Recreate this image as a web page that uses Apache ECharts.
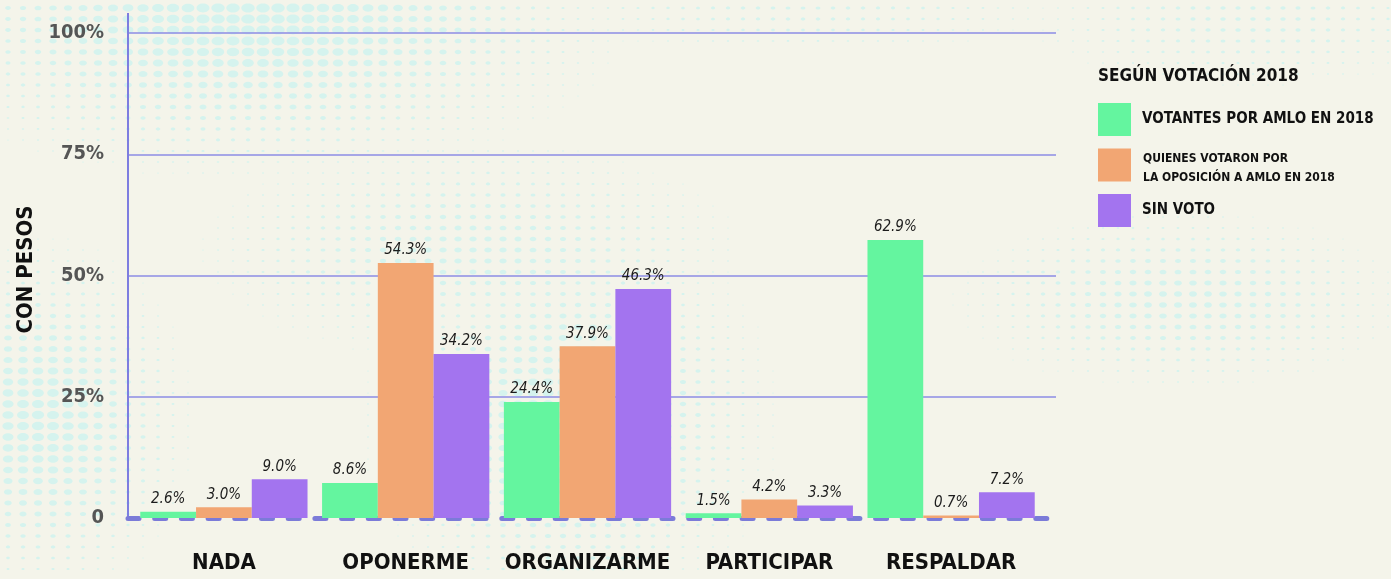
<!DOCTYPE html>
<html lang="es">
<head>
  <meta charset="UTF-8">
  <title>Con pesos</title>
  <style>
    html, body {
      margin: 0;
      padding: 0;
      width: 100%;
      height: 100%;
      background: #f4f4ea;
    }
  </style>
  <script src="https://cdn.jsdelivr.net/npm/echarts@6/dist/echarts.min.js"></script>
</head>
<body>
<div id="main" style="width: 1391px; height: 579px;"></div>

<script>
  var categorias = ['NADA', 'OPONERME', 'ORGANIZARME', 'PARTICIPAR', 'RESPALDAR'];
  var grupos = ['VOTANTES POR AMLO EN 2018', 'QUIENES VOTARON POR\nLA OPOSICIÓN A AMLO EN 2018', 'SIN VOTO'];

  // alturas de las barras tal como se ven en la imagen
  var votantesAmlo = [1.3, 7.2, 23.9, 1.0, 57.3];
  var oposicion = [2.2, 52.6, 35.4, 3.8, 0.5];
  var sinVoto = [8.0, 33.8, 47.2, 2.6, 5.3];

  // etiquetas impresas sobre cada barra
  var etiquetasAmlo = ['2.6', '8.6', '24.4', '1.5', '62.9'];
  var etiquetasOposicion = ['3.0', '54.3', '37.9', '4.2', '0.7'];
  var etiquetasSinVoto = ['9.0', '34.2', '46.3', '3.3', '7.2'];

  var colores = ['#64f59f', '#f2a673', '#a374ef'];

  var narrow = "'DejaVu Sans Condensed', 'DejaVu Sans', sans-serif";

  var chartDom = document.getElementById('main');
  var myChart = echarts.init(chartDom);

  // fondo de puntos (semitono decorativo)
  var manchas = [
    // cx, cy, rx, ry, fuerza
    [250, 20, 260, 110, 1.0],
    [40, 420, 110, 130, 0.9],
    [570, 420, 150, 150, 0.85],
    [470, 250, 220, 90, 0.55],
    [1180, 300, 180, 70, 0.6],
    [1250, 20, 200, 60, 0.4],
    [800, 10, 250, 40, 0.35]
  ];

  function puntosFondo() {
    var hijos = [];
    for (var y = 8; y < 579; y += 11) {
      for (var x = 8; x < 1391; x += 15) {
        var f = 0;
        manchas.forEach(function (m) {
          var dx = (x - m[0]) / m[2];
          var dy = (y - m[1]) / m[3];
          f = Math.max(f, m[4] * Math.exp(-(dx * dx + dy * dy)));
        });
        if (f < 0.12) continue;
        hijos.push({
          type: 'ellipse',
          shape: { cx: x, cy: y, rx: 6.8 * f, ry: 4.6 * f },
          style: { fill: '#d5f3ee' },
          silent: true
        });
      }
    }
    return hijos;
  }

  function serie(i, datos, etiquetas) {
    return {
      name: grupos[i],
      type: 'bar',
      xAxisIndex: 1,
      yAxisIndex: 1,
      data: datos,
      barGap: 0,
      barCategoryGap: '8%',
      itemStyle: { color: colores[i] },
      label: {
        show: true,
        position: 'top',
        distance: 5,
        fontFamily: narrow,
        fontStyle: 'italic',
        fontSize: 15,
        color: '#1c1c1c',
        formatter: function (p) {
          return etiquetas[p.dataIndex] + '%';
        }
      }
    };
  }

  var option = {
    backgroundColor: '#f4f4ea',
    animation: false,
    graphic: [
      {
        type: 'group',
        z: -10,
        silent: true,
        children: puntosFondo()
      }
    ],
    title: {
      text: 'SEGÚN VOTACIÓN 2018',
      left: 1098,
      top: 68,
      padding: 0,
      textStyle: {
        fontFamily: narrow,
        fontWeight: 'bold',
        fontSize: 17,
        color: '#111'
      }
    },
    legend: {
      orient: 'vertical',
      left: 1098,
      top: 103,
      padding: 0,
      icon: 'rect',
      itemWidth: 33,
      itemHeight: 33,
      itemGap: 10,
      data: grupos,
      formatter: function (name) {
        if (name === grupos[1]) {
          return '{s|' + name + '}';
        }
        return '{b|' + name + '}';
      },
      textStyle: {
        rich: {
          b: {
            fontFamily: narrow,
            fontWeight: 'bold',
            fontSize: 15,
            color: '#111',
            padding: [0, 0, 0, 6]
          },
          s: {
            fontFamily: narrow,
            fontWeight: 'bold',
            fontSize: 12,
            lineHeight: 19,
            color: '#111',
            padding: [7, 0, 0, 7]
          }
        }
      }
    },
    grid: [
      { left: 128, right: 335, top: 33, bottom: 61, outerBoundsMode: 'none' },
      { left: 133, right: 349, top: 33, bottom: 61, outerBoundsMode: 'none' }
    ],
    xAxis: [
      {
        type: 'value',
        gridIndex: 0,
        min: 0,
        max: 1,
        axisLine: {
          show: true,
          lineStyle: {
            color: '#7b7bd8',
            width: 5,
            type: [11, 15.7],
            cap: 'round'
          }
        },
        axisTick: { show: false },
        axisLabel: { show: false },
        splitLine: { show: false }
      },
      {
        type: 'category',
        gridIndex: 1,
        data: categorias,
        axisLine: { show: false },
        axisTick: { show: false },
        axisLabel: {
          interval: 0,
          margin: 34,
          verticalAlign: 'top',
          lineHeight: 22,
          fontFamily: narrow,
          fontWeight: 'bold',
          fontSize: 22,
          color: '#111'
        }
      }
    ],
    yAxis: [
      {
        type: 'value',
        gridIndex: 0,
        min: 0,
        max: 100,
        interval: 25,
        name: 'CON PESOS',
        nameLocation: 'middle',
        nameRotate: 90,
        nameGap: 84,
        nameTextStyle: {
          fontFamily: narrow,
          fontWeight: 'bold',
          fontSize: 22,
          color: '#111',
          padding: [0, 0, 0, 12]
        },
        axisLine: {
          show: true,
          symbol: ['none', 'rect'],
          symbolSize: [2, 40],
          lineStyle: { color: '#7d7de0', width: 2 }
        },
        axisTick: { show: false },
        axisLabel: {
          margin: 24,
          padding: [0, 0, 8, 0],
          fontFamily: narrow,
          fontWeight: 'bold',
          fontSize: 20,
          color: '#555',
          formatter: function (v) {
            return v === 0 ? '0' : v + '%';
          }
        },
        splitLine: {
          show: true,
          showMinLine: false,
          lineStyle: { color: '#8d8de4', width: 1.5 }
        }
      },
      {
        type: 'value',
        gridIndex: 1,
        min: 0,
        max: 100,
        show: false
      }
    ],
    series: [
      serie(0, votantesAmlo, etiquetasAmlo),
      serie(1, oposicion, etiquetasOposicion),
      serie(2, sinVoto, etiquetasSinVoto)
    ]
  };

  myChart.setOption(option);
</script>
</body>
</html>
